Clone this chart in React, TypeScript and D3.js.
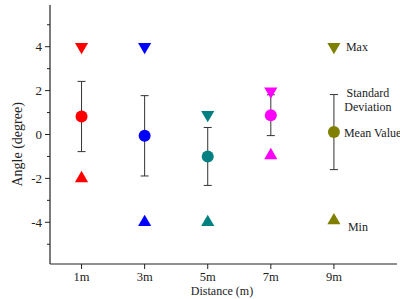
import React from "react";
import * as d3 from "d3";

// distance categories and per-distance statistics (degrees)
const distances = [1, 3, 5, 7, 9];
const distanceLabels = ["1m", "3m", "5m", "7m", "9m"];
const maxValues = [4, 4, 0.9, 1.97, 4];
const meanValues = [0.82, -0.06, -1.0, 0.88, 0.11];
const stdValues = [1.6, 1.83, 1.32, 0.93, 1.71];
const minValues = [-2, -4, -4, -0.95, -3.92];
const colors = ["#ff0000", "#0000ff", "#008080", "#ff00ff", "#808000"];
const yTicks = [-4, -2, 0, 2, 4];
const yMinorTicks = [-5, -3, -1, 1, 3, 5];

export default function App() {
  const width = 400;
  const height = 299;
  const margin = { left: 50, top: 5, right: 3, bottom: 35 };

  const x = d3
    .scaleLinear()
    .domain([0, 11])
    .range([margin.left, width - margin.right]);
  const y = d3
    .scaleLinear()
    .domain([-5.9, 5.9])
    .range([height - margin.bottom, margin.top]);

  const font = "Liberation Serif";
  const axisColor = "#222";
  const tri = d3.symbol().type(d3.symbolTriangle).size(75);

  const xLast = distances[distances.length - 1];

  return (
    <svg
      width={width}
      height={height}
      style={{ position: "absolute", left: 0, top: 0, background: "#fff", fontFamily: font }}
    >
      {/* axes */}
      <line x1={x(0)} x2={x(11)} y1={y(-5.9)} y2={y(-5.9)} stroke={axisColor} strokeWidth={1.2} />
      <line x1={x(0)} x2={x(0)} y1={y(-5.9)} y2={y(5.9)} stroke={axisColor} strokeWidth={1.2} />

      {yTicks.map((t) => (
        <g key={t}>
          <line x1={x(0) - 5} x2={x(0)} y1={y(t)} y2={y(t)} stroke={axisColor} />
          <text x={x(0) - 8} y={y(t)} dy="0.35em" textAnchor="end" fontSize={13} fill="#222">
            {t}
          </text>
        </g>
      ))}
      {yMinorTicks.map((t) => (
        <line key={t} x1={x(0) - 3} x2={x(0)} y1={y(t)} y2={y(t)} stroke={axisColor} />
      ))}

      {distances.map((d, i) => (
        <g key={d}>
          <line x1={x(d)} x2={x(d)} y1={y(-5.9)} y2={y(-5.9) + 5} stroke={axisColor} />
          <text x={x(d)} y={y(-5.9) + 17} textAnchor="middle" fontSize={12.5} fill="#222">
            {distanceLabels[i]}
          </text>
        </g>
      ))}

      <text
        transform={`translate(17, ${y(-0.45)}) rotate(-90)`}
        textAnchor="middle"
        dy="0.35em"
        fontSize={14}
        fill="#222"
      >
        Angle (degree)
      </text>
      <text x={222} y={295} textAnchor="middle" fontSize={12} fill="#222">
        Distance (m)
      </text>

      {/* error bars */}
      {distances.map((d, i) => {
        const hi = y(meanValues[i] + stdValues[i]);
        const lo = y(meanValues[i] - stdValues[i]);
        const cx = x(d);
        return (
          <g key={d} stroke="#333" strokeWidth={1}>
            <line x1={cx} x2={cx} y1={hi} y2={lo} />
            <line x1={cx - 4} x2={cx + 4} y1={hi} y2={hi} />
            <line x1={cx - 4} x2={cx + 4} y1={lo} y2={lo} />
          </g>
        );
      })}

      {/* markers: max, mean, min */}
      {distances.map((d, i) => (
        <g key={d} fill={colors[i]}>
          <path d={tri() ?? ""} transform={`translate(${x(d)}, ${y(maxValues[i])}) rotate(180)`} />
          <circle cx={x(d)} cy={y(meanValues[i])} r={6} />
          <path d={tri() ?? ""} transform={`translate(${x(d)}, ${y(minValues[i])})`} />
        </g>
      ))}

      {/* annotation beside the last group */}
      <g fontSize={12} fill="#222">
        <text x={x(xLast) + 12} y={y(maxValues[4])} dy="0.35em">Max</text>
        <text x={x(xLast) + 34} y={97} textAnchor="middle">Standard</text>
        <text x={x(xLast) + 34} y={111} textAnchor="middle">Deviation</text>
        <text x={x(xLast) + 10} y={y(meanValues[4])} dy="0.4em">Mean Value</text>
        <text x={x(xLast) + 14} y={y(minValues[4]) + 10}>Min</text>
      </g>
    </svg>
  );
}
